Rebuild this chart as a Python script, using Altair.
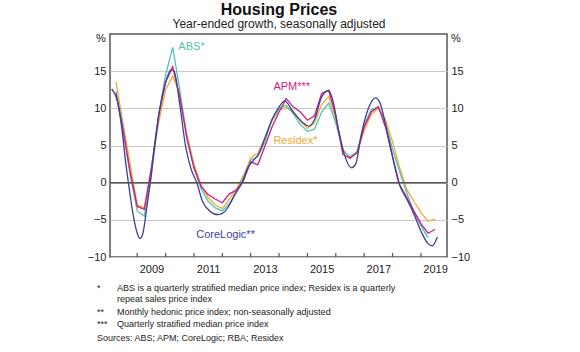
import altair as alt
import pandas as pd

# ---- data ----
q_times = [2008.25 + 0.25 * k for k in range(46)]  # quarter ends, Mar-2008 .. Jun-2019

abs_vals = [12.3, 7.5, 1.0, -3.8, -4.5, 1.0, 9.0, 14.5, 18.2, 12.5, 6.0, 2.0, -0.8, -2.5,
            -3.4, -3.8, -2.8, -1.3, 0.8, 3.0, 3.5, 5.5, 8.5, 10.0, 10.4, 9.3, 7.8, 6.9, 7.2,
            9.5, 10.7, 8.0, 4.3, 3.5, 4.2, 7.8, 9.8, 10.2, 8.0, 4.5, 1.5, -1.4, -3.8, -5.8, -7.4]

apm_vals = [12.0, 7.0, 1.5, -3.2, -3.6, 2.0, 9.0, 13.5, 15.6, 11.5, 6.0, 2.0, -0.5, -1.6,
            -2.2, -2.7, -1.5, -1.0, 0.3, 2.8, 2.4, 4.9, 7.5, 9.5, 11.3, 10.2, 9.5, 8.4, 9.0,
            12.0, 12.4, 9.0, 3.8, 3.3, 4.0, 7.5, 9.5, 10.2, 7.5, 3.5, -0.3, -2.0, -3.8, -5.5,
            -6.8, -6.3]

residex_vals = [13.6, 8.0, 2.5, -3.0, -3.4, 2.0, 8.0, 12.5, 14.3, 12.0, 6.5, 2.5, -0.3, -2.0,
                -3.0, -3.5, -2.2, -0.8, 1.0, 3.3, 4.0, 6.0, 8.3, 9.8, 10.1, 9.6, 8.3, 7.3, 8.0,
                10.5, 11.6, 8.5, 4.5, 3.3, 4.0, 7.0, 9.2, 10.0, 8.5, 5.5, 2.0, -0.9, -2.5, -4.0,
                -5.2, -4.9]

corelogic_times = [2008.1, 2008.2, 2008.3, 2008.45, 2008.6, 2008.7, 2008.85, 2009.0, 2009.1,
                   2009.2, 2009.35, 2009.46, 2009.6, 2009.8, 2010.0, 2010.2, 2010.3, 2010.5,
                   2010.7, 2010.9, 2011.1, 2011.3, 2011.55, 2011.85, 2012.05, 2012.25, 2012.45,
                   2012.7, 2012.9, 2013.1, 2013.3, 2013.5, 2013.75, 2014.0, 2014.2, 2014.5,
                   2014.8, 2015.05, 2015.25, 2015.5, 2015.75, 2015.9, 2016.1, 2016.3, 2016.55,
                   2016.7, 2016.9, 2017.15, 2017.4, 2017.55, 2017.8, 2018.0, 2018.22, 2018.5,
                   2018.75, 2019.0, 2019.25, 2019.4, 2019.58]
corelogic_vals = [12.6, 12.0, 11.0, 7.5, 2.5, -0.3, -4.2, -6.8, -7.5,
                  -6.8, -3.0, 0.0, 4.5, 10.0, 13.5, 15.2, 15.0, 10.5,
                  5.0, 1.8, 0.0, -2.5, -3.8, -4.3, -4.0, -3.0, -1.5,
                  0.0, 2.0, 3.0, 4.0, 6.0, 8.5, 10.2, 11.0, 9.5,
                  8.2, 7.6, 8.5, 11.5, 12.4, 11.0, 7.0, 3.8, 2.0,
                  2.5, 6.5, 10.0, 11.4, 10.8, 7.0, 3.5, 0.0, -2.2,
                  -4.2, -6.5, -8.2, -8.5, -7.3]

series_names = ["Residex", "ABS", "APM", "CoreLogic"]
series_colors = ["#f3a936", "#4fc3b3", "#cf1a82", "#3d3f98"]

label_text = ["ABS*", "APM***", "Residex*", "CoreLogic**"]
label_series = ["ABS", "APM", "Residex", "CoreLogic"]
label_x = [2010.45, 2013.8, 2013.8, 2011.08]
label_y = [18.3, 12.9, 5.6, -7.1]

y_ticks = [-10, -5, 0, 5, 10, 15]
x_label_years = [2009, 2011, 2013, 2015, 2017, 2019]
x_tick_years = list(range(2009, 2020))

footnote_marks = ["*", "", "**", "***"]
footnote_lines = ["ABS is a quarterly stratified median price index; Residex is a quarterly",
                  "repeat sales price index",
                  "Monthly hedonic price index; non-seasonally adjusted",
                  "Quarterly stratified median price index"]
sources = "Sources: ABS; APM; CoreLogic; RBA; Residex"

# ---- tables ----
rows = []
for t, v in zip(q_times, residex_vals):
    rows.append(("Residex", t, v))
for t, v in zip(q_times, abs_vals):
    rows.append(("ABS", t, v))
for t, v in zip(q_times, apm_vals):
    rows.append(("APM", t, v))
q_df = pd.DataFrame(rows, columns=["series", "t", "v"])
q_df["order"] = q_df["series"].map({n: i for i, n in enumerate(series_names)})
cl_df = pd.DataFrame({"series": "CoreLogic", "t": corelogic_times, "v": corelogic_vals})

labels_df = pd.DataFrame({"text": label_text, "series": label_series, "t": label_x, "v": label_y})
ticks_df = pd.DataFrame({"t": x_tick_years, "y0": [-10] * len(x_tick_years),
                         "y1": [-9.45] * len(x_tick_years)})

FONT = "Liberation Sans"
W, H = 337, 223

xs = alt.Scale(domain=[2008.04, 2019.92], nice=False, zero=False)
ys = alt.Scale(domain=[-10, 20], nice=False, zero=False)
color = alt.Scale(domain=series_names, range=series_colors)

x_axis = alt.Axis(values=[y + 0.5 for y in x_label_years], labelExpr="floor(datum.value)",
                  ticks=False, domain=False, grid=False, title=None, labelFont=FONT,
                  labelFontSize=11, labelColor="#222", labelPadding=6, labelFlush=False)


def X(field="t"):
    return alt.X(f"{field}:Q", scale=xs, axis=x_axis)


left_axis = alt.Axis(values=y_ticks, grid=True, gridColor="#c8c8c8", gridWidth=1,
                     domain=False, ticks=False, title=None, labelFont=FONT, labelFontSize=11,
                     labelColor="#222", labelPadding=4, labelFlush=False)
right_axis = alt.Axis(values=y_ticks, orient="right", grid=False, domain=False, ticks=False,
                      title=None, labelFont=FONT, labelFontSize=11, labelColor="#222",
                      labelPadding=4, labelFlush=False)

qlines = alt.Chart(q_df).mark_line(strokeWidth=1.3).encode(
    x=X(),
    y=alt.Y("v:Q", scale=ys, axis=left_axis),
    color=alt.Color("series:N", scale=color, legend=None),
    detail="series:N",
    order="t:Q",
)

cllines = alt.Chart(cl_df).mark_line(strokeWidth=1.3, interpolate="monotone").encode(
    x=X(),
    y=alt.Y("v:Q", scale=ys, axis=None),
    color=alt.Color("series:N", scale=color, legend=None),
)

zero = alt.Chart(pd.DataFrame({"v": [0]})).mark_rule(color="#555", strokeWidth=1.5).encode(
    y=alt.Y("v:Q", scale=ys, axis=right_axis)
)

ticks = alt.Chart(ticks_df).mark_rule(color="#555", strokeWidth=1.2).encode(
    x=X(),
    y=alt.Y("y0:Q", scale=ys, axis=None),
    y2="y1:Q",
)

labels = alt.Chart(labels_df).mark_text(align="left", baseline="middle", font=FONT,
                                        fontSize=11).encode(
    x=X(),
    y=alt.Y("v:Q", scale=ys, axis=None),
    text="text:N",
    color=alt.Color("series:N", scale=color, legend=None),
)


def txt(s, x, y, **kw):
    base = dict(font=FONT, fontSize=11, color="#222", baseline="middle", align="left")
    base.update(kw)
    return alt.Chart(pd.DataFrame({"s": [s]})).mark_text(**base).encode(
        text="s:N", x=alt.value(x), y=alt.value(y))


ox, oy = 110, 34  # plot origin in page pixels
texts = [
    txt("Housing Prices", 279 - ox, 10 - oy, fontSize=16, fontWeight="bold", align="center",
        color="#111"),
    txt("Year-ended growth, seasonally adjusted", 279 - ox, 24 - oy, fontSize=12,
        align="center"),
    txt("%", 101 - ox, 39 - oy, align="center"),
    txt("%", 456 - ox, 39 - oy, align="center"),
]
fy = [288, 299, 312, 324]
for m, line, yy in zip(footnote_marks, footnote_lines, fy):
    if m:
        texts.append(txt(m, 97 - ox, yy - oy, fontSize=9))
    texts.append(txt(line, 117 - ox, yy - oy, fontSize=9))
texts.append(txt(sources, 97 - ox, 338 - oy, fontSize=9))

chart = alt.layer(qlines, cllines, zero, ticks, labels, *texts).resolve_scale(
    y="shared"
).resolve_axis(y="independent").properties(
    width=W, height=H,
    autosize=alt.AutoSizeParams(type="none"),
    padding={"left": ox, "top": oy, "right": 580 - ox - W, "bottom": 352 - oy - H},
    background="white",
).configure_view(stroke="#555", strokeWidth=1.5)

chart.save("out.html", embed_options={"renderer": "svg", "actions": False})
